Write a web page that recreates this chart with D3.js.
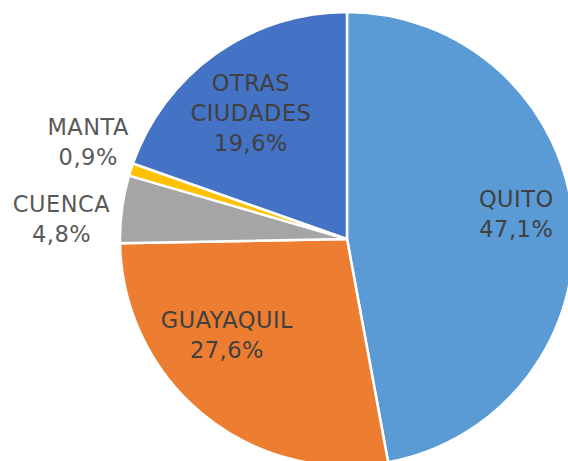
<!DOCTYPE html>
<meta charset="utf-8">
<style>
body { margin: 0; background: #fff; }
svg text { font-family: "DejaVu Sans", sans-serif; font-size: 22.5px; letter-spacing: 0.5px; }
</style>
<svg width="568" height="461"></svg>
<script src="https://cdn.jsdelivr.net/npm/d3@7/dist/d3.min.js"></script>
<script>
var ciudades = ["QUITO", "GUAYAQUIL", "CUENCA", "MANTA", "OTRAS CIUDADES"];
var valores = [47.1, 27.6, 4.8, 0.9, 19.6];
var colores = ["#5b9bd5", "#ed7d31", "#a5a5a5", "#ffc000", "#4472c4"];

var svg = d3.select("svg"),
    cx = 347, cy = 239, radius = 227;

var data = ciudades.map(function(c, i) { return {name: c, value: valores[i]}; });

var pie = d3.pie().sort(null).value(function(d) { return d.value; });
var arc = d3.arc().innerRadius(0).outerRadius(radius);
var color = d3.scaleOrdinal().domain(ciudades).range(colores);

var g = svg.append("g").attr("transform", "translate(" + cx + "," + cy + ")");
var arcs = pie(data);

g.selectAll("path")
  .data(arcs)
  .enter().append("path")
    .attr("d", arc)
    .attr("fill", function(d) { return color(d.data.name); })
    .attr("stroke", "#fff")
    .attr("stroke-width", 2.5)
    .attr("stroke-linejoin", "round");

// label placement: radius along mid angle, then a small nudge (like Excel best fit)
var labelLayout = {
  "QUITO":          {r: 170, dx: 0,   dy: -10, fill: "#404040"},
  "GUAYAQUIL":      {r: 155, dx: -22, dy: -24, fill: "#404040"},
  "CUENCA":         {r: 287, dx: -1,  dy: 17,  fill: "#595959"},
  "MANTA":          {r: 275, dx: 3,   dy: -13, fill: "#595959"},
  "OTRAS CIUDADES": {r: 156, dx: -6,  dy: 1,   fill: "#404040"}
};
var lineH = 30, cap = 16.5;

arcs.forEach(function(d) {
  var lay = labelLayout[d.data.name];
  var a = (d.startAngle + d.endAngle) / 2;
  var p = d3.pointRadial(a, lay.r);
  var x = p[0] + lay.dx, y = p[1] + lay.dy;
  var lines = d.data.name.split(" ").concat([d3.format(".1f")(d.data.value).replace(".", ",") + "%"]);
  var t = g.append("text")
      .attr("text-anchor", "middle")
      .attr("fill", lay.fill);
  lines.forEach(function(s, i) {
    t.append("tspan")
      .attr("x", x)
      .attr("y", y - (lines.length - 1) * lineH / 2 + cap / 2 + i * lineH)
      .text(s);
  });
});
</script>
